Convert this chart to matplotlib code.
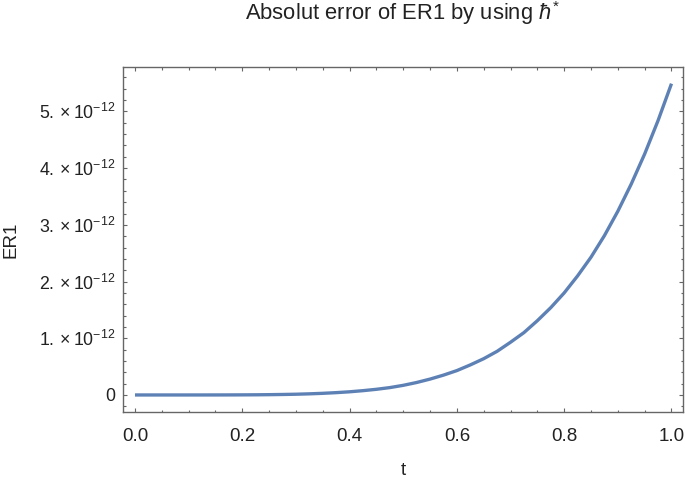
import matplotlib
matplotlib.use("Agg")
import matplotlib.pyplot as plt
from matplotlib.ticker import MultipleLocator, FuncFormatter

plt.rcParams['font.family'] = ['Liberation Sans', 'DejaVu Sans']
plt.rcParams['mathtext.fontset'] = 'custom'
plt.rcParams['mathtext.rm'] = 'Liberation Sans'
plt.rcParams['mathtext.it'] = 'Liberation Sans:italic'
plt.rcParams['mathtext.fallback'] = 'stixsans'

# Data (ER1 in units of 1e-12)
t = [0.000, 0.025, 0.050, 0.075, 0.100, 0.125, 0.150, 0.175, 0.200, 0.225,
     0.250, 0.275, 0.300, 0.325, 0.350, 0.375, 0.400, 0.425, 0.450, 0.475,
     0.500, 0.525, 0.550, 0.575, 0.600, 0.625, 0.650, 0.675, 0.700, 0.725,
     0.750, 0.775, 0.800, 0.825, 0.850, 0.875, 0.900, 0.925, 0.950, 0.975, 1.000]
er1 = [0.0, 0.0, 0.0, 0.0, 0.0001, 0.0002, 0.0004, 0.0009, 0.0018, 0.003,
       0.0054, 0.0086, 0.013, 0.020, 0.029, 0.041, 0.056, 0.076, 0.10, 0.13,
       0.17, 0.22, 0.28, 0.35, 0.43, 0.53, 0.64, 0.77, 0.93, 1.10,
       1.31, 1.54, 1.80, 2.10, 2.43, 2.81, 3.24, 3.72, 4.25, 4.84, 5.49]
scale = 1e-12
x_ticks = [0.0, 0.2, 0.4, 0.6, 0.8, 1.0]
y_ticks = [0, 1, 2, 3, 4, 5]

fig = plt.figure(figsize=(6.85, 4.8), dpi=100)
ax = fig.add_axes([0.18, 0.1423, 0.8175, 0.7177])

ax.plot(t, [v * scale for v in er1], color='#5E81B5', lw=2.4, solid_capstyle='butt')

ax.set_xlim(-0.0218, 1.022)
ax.set_ylim(-0.295e-12, 5.78e-12)

ax.set_xticks(x_ticks)
ax.xaxis.set_minor_locator(MultipleLocator(0.05))
ax.set_yticks([v * scale for v in y_ticks])
ax.yaxis.set_minor_locator(MultipleLocator(0.2e-12))

def yfmt(v, pos):
    n = int(round(v / scale))
    if n == 0:
        return '0'
    return r'$\mathregular{%d.\times10^{-12}}$' % n

ax.xaxis.set_major_formatter(FuncFormatter(lambda v, p: '%.1f' % v))
ax.yaxis.set_major_formatter(FuncFormatter(yfmt))

frame_col = '#666666'
for s in ax.spines.values():
    s.set_color(frame_col)
    s.set_linewidth(1.0)

ax.tick_params(which='both', direction='in', top=True, right=True,
               color=frame_col, width=0.8)
ax.tick_params(which='major', length=3.2)
ax.tick_params(which='minor', length=1.8)
ax.tick_params(axis='x', which='major', labelsize=13.5, pad=12, labelcolor='#222222')
ax.tick_params(axis='y', which='major', labelsize=12.8, pad=6, labelcolor='#222222')

ax.set_xlabel('t', fontsize=13.5, color='#222222', labelpad=12)
ax.set_ylabel('ER1', fontsize=13.5, color='#222222', labelpad=14)
fig.text(0.588, 0.958, r'Absolut error of ER1 by using $\hbar^{*}$', fontsize=15.8,
         ha='center', va='baseline', color='#222222')

fig.savefig('out.png', dpi=100)
